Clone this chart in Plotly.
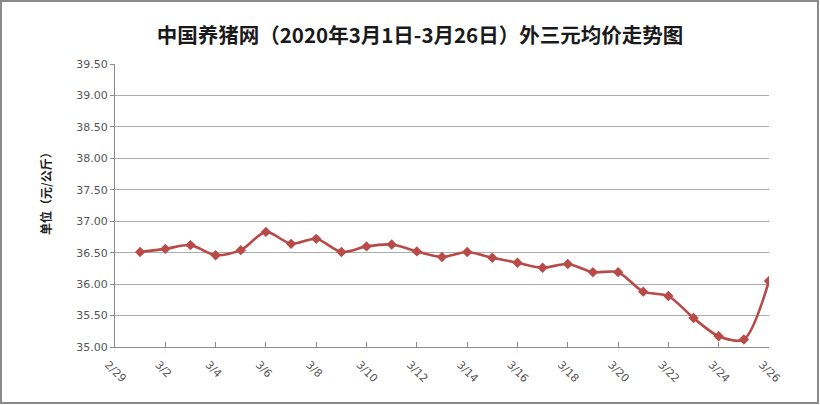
import plotly.graph_objects as go

dates = ["2020-03-%02d" % d for d in range(1, 27)]
prices = [36.51, 36.56, 36.62, 36.46, 36.54, 36.83, 36.64, 36.72, 36.51, 36.60,
          36.63, 36.52, 36.43, 36.51, 36.42, 36.34, 36.26, 36.32, 36.19, 36.19,
          35.88, 35.81, 35.46, 35.17, 35.12, 36.05]
tick_vals = ["2020-02-29"] + ["2020-03-%02d" % d for d in range(2, 27, 2)]
tick_text = ["2/29"] + ["3/%d" % d for d in range(2, 27, 2)]
y_ticks = [35.0 + 0.5 * i for i in range(10)]

title = "中国养猪网（2020年3月1日-3月26日）外三元均价走势图"
y_title = "单位（元/公斤）"

W, H = 820, 405
L, R, T, B = 115, 51, 64, 58
pw, ph = W - L - R, H - T - B

def px_x(p):
    return (p - L) / pw

def px_y(p):
    return 1 - (p - T) / ph

fig = go.Figure()
fig.add_trace(go.Scatter(
    x=dates, y=prices, mode="lines+markers",
    line=dict(color="#B84A47", width=2.6, shape="spline", smoothing=0.8),
    marker=dict(symbol="diamond", size=8, color="#B84A47"),
    hoverinfo="x+y", showlegend=False,
))

fig.update_layout(
    width=W, height=H,
    margin=dict(l=L, r=R, t=T, b=B),
    paper_bgcolor="white", plot_bgcolor="white",
    title=dict(text="<b>" + title + "</b>", x=(420 - L) / pw, xref="paper", y=1 - 36 / H,
               yanchor="middle", xanchor="center",
               font=dict(family="Noto Sans CJK SC", size=20.5, color="#1a1a1a")),
    xaxis=dict(type="date", range=["2020-02-29", "2020-03-26"],
               tickvals=tick_vals, ticktext=tick_text, tickangle=45,
               ticklabelshift=-7, ticklabelstandoff=6,
               showgrid=False, showline=True, linecolor="#8c8c8c", linewidth=1,
               ticks="inside", ticklen=5, tickcolor="#8c8c8c",
               tickfont=dict(family="DejaVu Sans", size=11, color="#555555")),
    yaxis=dict(range=[35.0, 39.5], tickvals=y_ticks, tickformat=".2f",
               showgrid=True, gridcolor="#ababab", gridwidth=1,
               showline=True, linecolor="#8c8c8c", linewidth=1,
               ticks="outside", ticklen=4, tickcolor="#8c8c8c",
               zeroline=False,
               tickfont=dict(family="DejaVu Sans", size=11, color="#555555")),
    annotations=[dict(text="<b>" + y_title + "</b>", textangle=-90,
                      xref="paper", yref="paper", x=px_x(45), y=px_y(191),
                      xanchor="center", yanchor="middle", showarrow=False,
                      font=dict(family="Noto Sans CJK SC", size=12, color="#222222"))],
    shapes=[dict(type="rect", xref="paper", yref="paper",
                 x0=px_x(1), x1=px_x(818), y0=px_y(403), y1=px_y(1),
                 line=dict(color="#8a8a8a", width=2), fillcolor="rgba(0,0,0,0)",
                 layer="below")],
)

fig.write_html("out.html", config={"displayModeBar": False},
               post_script="document.body.style.margin='0';")
